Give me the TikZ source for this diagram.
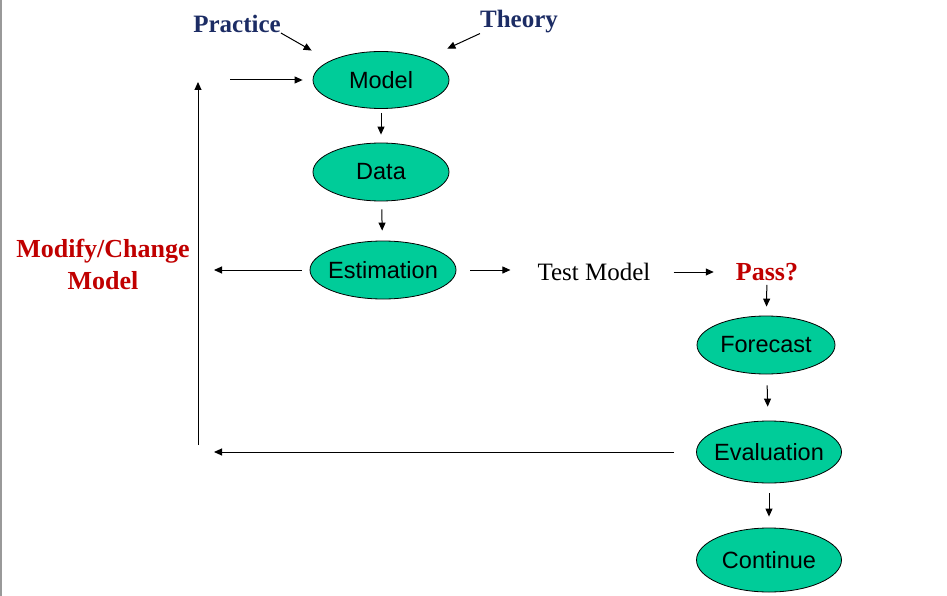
\documentclass[tikz,border=0pt]{standalone}
\usepackage{fontspec}
\setmainfont{Liberation Serif}
\setsansfont{Liberation Sans}
\usetikzlibrary{positioning}
\usetikzlibrary{calc}
\usetikzlibrary{shapes.geometric}
\usetikzlibrary{arrows.meta}
\definecolor{stagegreen}{RGB}{0,204,153}
\definecolor{navytext}{RGB}{28,44,100}
\definecolor{redtext}{RGB}{192,0,0}

\begin{document}
\begin{tikzpicture}
	[x=1pt,y=-1pt,
	 stage/.style={ellipse,draw=black,line width=0.8pt,fill=stagegreen,inner ysep=0pt,inner xsep=-6pt,
	   font=\sffamily\fontsize{23.5}{28}\selectfont},
	 source/.style={inner sep=0pt,text=navytext,font=\bfseries\fontsize{25}{30}\selectfont},
	 flag/.style={inner sep=0pt,text=redtext,align=center,font=\bfseries\fontsize{26}{32}\selectfont},
	 plain/.style={inner sep=0pt,font=\fontsize{25}{30}\selectfont},
	 line/.style={black,line width=1pt,-{Triangle[length=8pt,width=7pt]}}]

	\useasboundingbox (0,0) rectangle (947,596);
	\draw[gray!80,line width=1.5pt] (1,0) -- (1,596);

	\node[source] (practice) at (237,24) {Practice};
	\node[source] (theory) at (519,22) {Theory};
	\node[stage,minimum width=136pt,minimum height=57pt] (model) at (381,80) {Model};
	\node[stage,minimum width=136pt,minimum height=58pt] (data) at (381,172) {Data};
	\node[stage,minimum width=146pt,minimum height=58pt] (estimation) at (383,270) {Estimation};
	\node[plain] (test) at (594,272) {Test Model};
	\node[flag] (pass) at (767,272) {Pass?};
	\node[stage,minimum width=138pt,minimum height=58pt] (forecast) at (766,345) {Forecast};
	\node[stage,minimum width=145pt,minimum height=62pt] (evaluation) at (769,452) {Evaluation};
	\node[stage,minimum width=145pt,minimum height=64pt] (continue) at (769,560) {Continue};
	\node[flag] (modify) at (103,264) {Modify/Change\\Model};

	\coordinate (feed) at (230,80);
	\coordinate (loopbot) at (198,445);
	\coordinate (looptop) at (198,82);

	\draw[line] (practice.south east) -- ([xshift=-21pt,yshift=9pt]model.north west);
	\draw[line] (theory.south west) -- ([xshift=18pt,yshift=11pt]model.north east);
	\draw[line,shorten >=10pt] (feed) -- (model.west);
	\draw[line] (loopbot) -- (looptop);
	\draw[line,shorten <=4pt,shorten >=8pt] (model) -- (data);
	\draw[line,shorten <=8pt,shorten >=10pt] (data) -- (estimation);
	\draw[line,shorten <=8pt,shorten >=16pt] (estimation.west) -- (estimation.west -| loopbot);
	\draw[line,shorten <=14pt,shorten >=27pt] (estimation.east) -- (test.west |- estimation.east);
	\draw[line,shorten <=23pt,shorten >=22pt] (test.east) -- (pass.west);
	\draw[line,shorten <=4pt,shorten >=9pt] (pass) -- (forecast);
	\draw[line,shorten <=11pt,shorten >=14pt] (forecast) -- (evaluation);
	\draw[line,shorten <=22pt,shorten >=16pt] (evaluation.west) -- (evaluation.west -| loopbot);
	\draw[line,shorten <=10pt,shorten >=11pt] (evaluation) -- (continue);
\end{tikzpicture}
\end{document}
